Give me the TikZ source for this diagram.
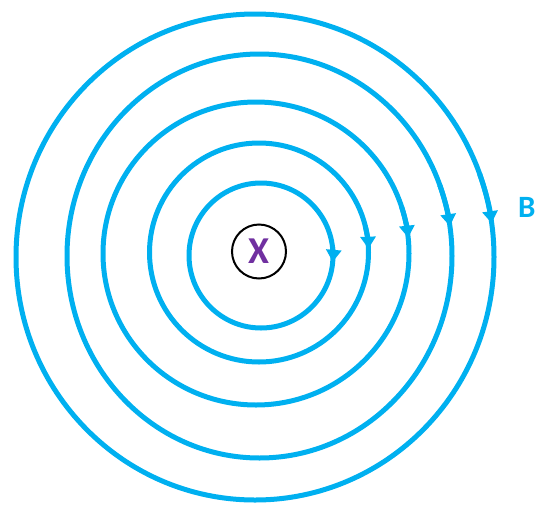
\documentclass[tikz,border=0pt]{standalone}
\usepackage{fontspec}
\setmainfont{Carlito}
\usetikzlibrary{arrows.meta}
\definecolor{fieldblue}{HTML}{00B0F0}
\definecolor{xpurple}{HTML}{7030A0}
\begin{document}
\begin{tikzpicture}[x=1pt,y=-1pt,
  ring/.style={draw=fieldblue, line width=5pt},
  dirtip/.style={ring, -{Triangle[width=15pt,length=12pt]}},
  wire/.style={circle, draw=black, line width=2pt, minimum size=54pt, inner sep=0pt,
    font=\bfseries\fontsize{38}{38}\selectfont, text=xpurple},
  fieldlabel/.style={font=\bfseries\fontsize{31}{31}\selectfont, text=fieldblue, anchor=west, inner sep=0pt}
]
\useasboundingbox (0,0) rectangle (536,504);
\foreach \cx/\cy/\rx/\ry/\a in {261/255.5/72/72.5/5, 259/252.5/109.5/109.5/-2, 256/253.5/153/151.5/-6, 259.5/256/192.5/202/-8.5, 255/257/239/243/-8}{
  \draw[ring] (\cx,\cy) ellipse[x radius=\rx, y radius=\ry];
  \draw[dirtip] ({\cx+\rx*cos(\a-12)},{\cy+\ry*sin(\a-12)}) arc[start angle=\a-12, end angle=\a, x radius=\rx, y radius=\ry];
}
\node[wire] (x) at (259,251.5) {X};
\node[fieldlabel] (b) at (518,207) {B};
\end{tikzpicture}
\end{document}
